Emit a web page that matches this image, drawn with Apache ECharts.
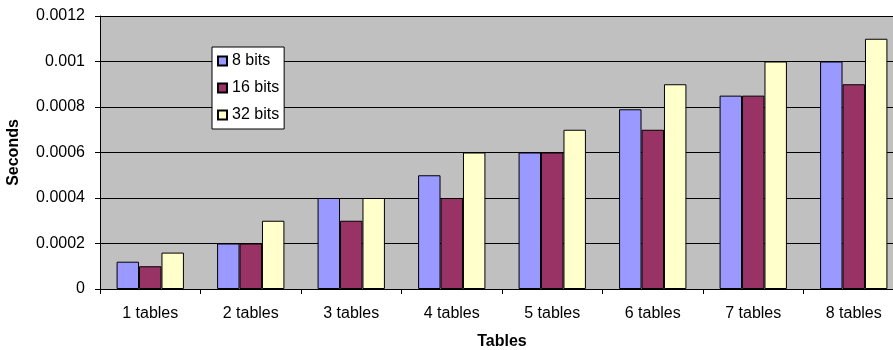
<!DOCTYPE html>
<html>
<head>
<meta charset="utf-8">
<script src="https://cdn.jsdelivr.net/npm/echarts@6/dist/echarts.min.js"></script>
<style>
  html, body { margin: 0; padding: 0; background: #fff; }
  #chart { width: 893px; height: 350px; }
</style>
</head>
<body>
<div id="chart"></div>
<script>
var categories = ['1 tables', '2 tables', '3 tables', '4 tables', '5 tables', '6 tables', '7 tables', '8 tables'];
var bits8 = [0.00012, 0.0002, 0.0004, 0.0005, 0.0006, 0.00079, 0.00085, 0.001];
var bits16 = [0.0001, 0.0002, 0.0003, 0.0004, 0.0006, 0.0007, 0.00085, 0.0009];
var bits32 = [0.00016, 0.0003, 0.0004, 0.0006, 0.0007, 0.0009, 0.001, 0.0011];
var seriesNames = ['8 bits', '16 bits', '32 bits'];
var colors = ['#9999FF', '#993366', '#FFFFCC'];

var font = 'Liberation Sans, Arial, sans-serif';

function barSeries(name, data, color) {
    return {
        name: name, type: 'bar', data: data,
        barGap: '0%', barCategoryGap: '33%',
        itemStyle: {color: color, borderColor: '#000', borderWidth: 1},
        emphasis: {disabled: true}
    };
}

var chart = echarts.init(document.getElementById('chart'));
chart.setOption({
    animation: false,
    textStyle: {fontFamily: font},
    grid: {
        left: 100, top: 16, width: 804, height: 273,
        outerBoundsMode: 'none', containLabel: false,
        show: true, backgroundColor: '#C0C0C0', borderWidth: 0
    },
    legend: {
        orient: 'vertical', left: 212, top: 47,
        backgroundColor: '#fff', borderColor: '#000', borderWidth: 1,
        padding: [6, 5, 6, 5], itemGap: 11, itemWidth: 9, itemHeight: 9, icon: 'rect',
        textStyle: {fontFamily: font, fontSize: 16, color: '#000'},
        data: seriesNames
    },
    xAxis: {
        type: 'category', data: categories,
        name: 'Tables', nameLocation: 'middle', nameGap: 45,
        nameTextStyle: {fontFamily: font, fontSize: 16, fontWeight: 'bold', color: '#000'},
        axisLine: {lineStyle: {color: '#000', width: 1}},
        axisTick: {show: true, length: 5, lineStyle: {color: '#000'}},
        axisLabel: {fontFamily: font, fontSize: 16, color: '#000', margin: 17}
    },
    yAxis: {
        type: 'value', min: 0, max: 0.0012, interval: 0.0002,
        name: 'Seconds', nameLocation: 'middle', nameGap: 78,
        nameTextStyle: {fontFamily: font, fontSize: 16, fontWeight: 'bold', color: '#000'},
        axisLine: {show: true, lineStyle: {color: '#000', width: 1}},
        axisTick: {show: true, length: 5, lineStyle: {color: '#000'}},
        axisLabel: {fontFamily: font, fontSize: 16, color: '#000', margin: 15},
        splitLine: {lineStyle: {color: '#000', width: 1}}
    },
    series: [
        barSeries(seriesNames[0], bits8, colors[0]),
        barSeries(seriesNames[1], bits16, colors[1]),
        barSeries(seriesNames[2], bits32, colors[2])
    ]
});
</script>
</body>
</html>
